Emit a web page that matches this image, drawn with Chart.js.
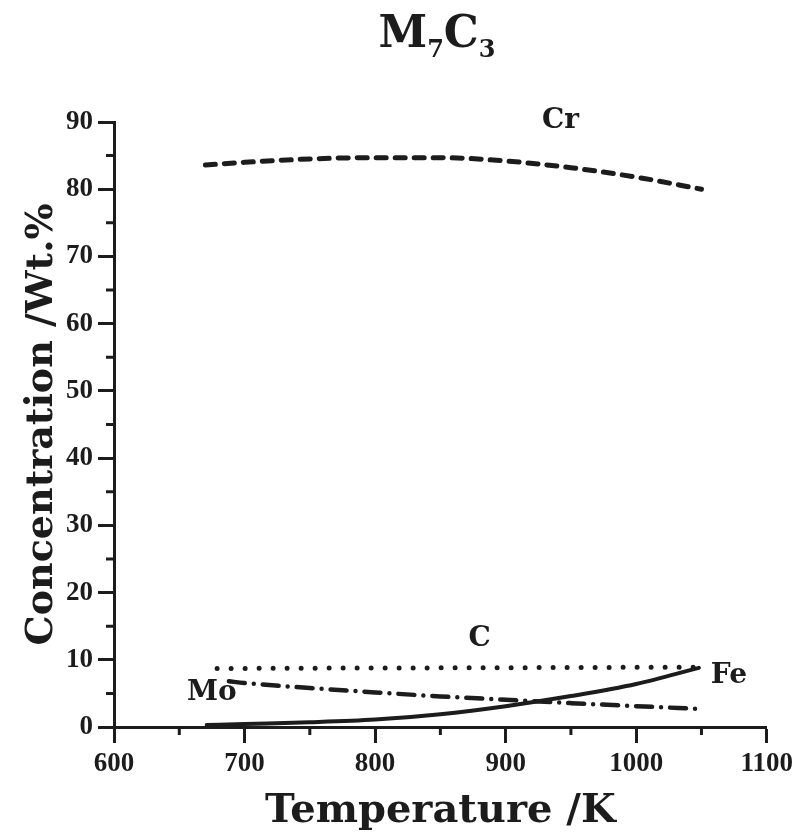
<!DOCTYPE html>
<html>
<head>
<meta charset="utf-8">
<script src="https://cdn.jsdelivr.net/npm/chart.js@4.4.1/dist/chart.umd.min.js"></script>
<style>
  html, body { margin: 0; padding: 0; background: #ffffff; }
  canvas { display: block; }
</style>
</head>
<body>
<canvas id="chart" width="798" height="836"></canvas>
<script>
// ---- data ----
const crTemps = [670, 700, 750, 800, 850, 900, 950, 1000, 1050];
const crValues = [83.6, 84.0, 84.5, 84.7, 84.7, 84.2, 83.2, 81.8, 80.0];

const cTemps = [679, 750, 850, 950, 1045];
const cValues = [8.7, 8.75, 8.8, 8.85, 8.9];

const moTemps = [688, 700, 750, 800, 850, 900, 950, 1000, 1048];
const moValues = [6.8, 6.55, 5.8, 5.15, 4.55, 4.05, 3.55, 3.1, 2.7];

const feTemps = [671, 700, 750, 800, 850, 900, 950, 1000, 1048];
const feValues = [0.3, 0.45, 0.7, 1.1, 1.9, 3.1, 4.6, 6.4, 8.8];

const xTicks = [600, 700, 800, 900, 1000, 1100];
const yTicks = [0, 10, 20, 30, 40, 50, 60, 70, 80, 90];
const xMinorTicks = [650, 750, 850, 950, 1050];
const yMinorTicks = [5, 15, 25, 35, 45, 55, 65, 75, 85];

const seriesNames = ['Cr', 'C', 'Mo', 'Fe'];
const labelTemps = [942, 880, 675, 1071];
const labelValues = [90.7, 13.5, 5.5, 8.0];

const titleMain = ['M', 'C'];
const titleSubs = ['7', '3'];
const xTitle = 'Temperature /K';
const yTitle = 'Concentration /Wt.%';

// ---- styling ----
const INK = '#1c1c1c';
const FONT = '"DejaVu Serif", "Liberation Serif", serif';
const TICKFONT = '"Liberation Serif", "DejaVu Serif", serif';

const toXY = (xs, ys) => xs.map((t, i) => ({ x: t, y: ys[i] }));

const decor = {
  id: 'decor',
  afterDraw(chart) {
    const { ctx, chartArea: a, scales: { x, y } } = chart;
    ctx.save();
    // minor ticks
    ctx.strokeStyle = INK;
    ctx.lineWidth = 3;
    ctx.lineCap = 'butt';
    ctx.beginPath();
    yMinorTicks.forEach(v => {
      const py = y.getPixelForValue(v);
      ctx.moveTo(a.left - 8, py); ctx.lineTo(a.left, py);
    });
    xMinorTicks.forEach(v => {
      const px = x.getPixelForValue(v);
      ctx.moveTo(px, a.bottom); ctx.lineTo(px, a.bottom + 8);
    });
    ctx.stroke();

    // series labels
    ctx.fillStyle = INK;
    ctx.textAlign = 'center';
    ctx.textBaseline = 'alphabetic';
    const lf = 28;
    ctx.font = `bold ${lf}px ${FONT}`;
    seriesNames.forEach((n, i) => {
      ctx.fillText(n, x.getPixelForValue(labelTemps[i]), y.getPixelForValue(labelValues[i]) + lf * 0.365);
    });

    // x axis title
    ctx.font = `bold 40px ${FONT}`;
    ctx.fillText(xTitle, (a.left + a.right) / 2, 822);

    // y axis title
    ctx.save();
    ctx.translate(52, (a.top + a.bottom) / 2);
    ctx.rotate(-Math.PI / 2);
    ctx.font = `bold 38px ${FONT}`;
    ctx.fillText(yTitle, 0, 0);
    ctx.restore();

    // chart title with subscripts
    const mainFont = `bold 44px ${FONT}`;
    const subFont = `bold 24px ${FONT}`;
    let total = 0;
    const parts = [];
    titleMain.forEach((m, i) => {
      parts.push({ t: m, f: mainFont, dy: 0 });
      parts.push({ t: titleSubs[i], f: subFont, dy: 10 });
    });
    parts.forEach(p => { ctx.font = p.f; p.w = ctx.measureText(p.t).width; total += p.w; });
    let cx = 437 - total / 2;
    ctx.textAlign = 'left';
    parts.forEach(p => {
      ctx.font = p.f;
      ctx.fillText(p.t, cx, 47 + p.dy);
      cx += p.w;
    });
    ctx.restore();
  }
};

const common = { borderColor: INK, pointRadius: 0, fill: false, cubicInterpolationMode: 'monotone', borderCapStyle: 'round', borderJoinStyle: 'round' };

new Chart(document.getElementById('chart'), {
  type: 'line',
  data: {
    datasets: [
      { ...common, label: 'Cr', data: toXY(crTemps, crValues), borderWidth: 5, borderDash: [10, 9] },
      { ...common, label: 'C', data: toXY(cTemps, cValues), borderWidth: 5, borderDash: [0, 14] },
      { ...common, label: 'Mo', data: toXY(moTemps, moValues), borderWidth: 4.5, borderDash: [16, 9, 0, 9] },
      { ...common, label: 'Fe', data: toXY(feTemps, feValues), borderWidth: 4 }
    ]
  },
  options: {
    responsive: false,
    animation: false,
    devicePixelRatio: 1,
    layout: { padding: { top: 122, right: 31, left: 0, bottom: 0 } },
    plugins: { legend: { display: false }, title: { display: false }, tooltip: { enabled: false } },
    scales: {
      x: {
        type: 'linear', min: 600, max: 1100,
        afterBuildTicks: s => { s.ticks = xTicks.map(v => ({ value: v })); },
        afterFit: s => { s.height = 109; },
        grid: { display: true, drawOnChartArea: false, drawTicks: true, tickLength: 16, tickWidth: 3, tickColor: INK, color: INK },
        border: { display: true, color: INK, width: 3 },
        ticks: { color: INK, padding: 5, font: { family: TICKFONT, size: 27, weight: 'bold' }, maxRotation: 0, callback: v => String(v) }
      },
      y: {
        type: 'linear', min: 0, max: 90,
        afterBuildTicks: s => { s.ticks = yTicks.map(v => ({ value: v })); },
        afterFit: s => { s.width = 114; },
        grid: { display: true, drawOnChartArea: false, drawTicks: true, tickLength: 16, tickWidth: 3, tickColor: INK, color: INK },
        border: { display: true, color: INK, width: 3 },
        ticks: { color: INK, padding: 5, font: { family: TICKFONT, size: 27, weight: 'bold' }, callback: v => String(v) }
      }
    }
  },
  plugins: [decor]
});
</script>
</body>
</html>
